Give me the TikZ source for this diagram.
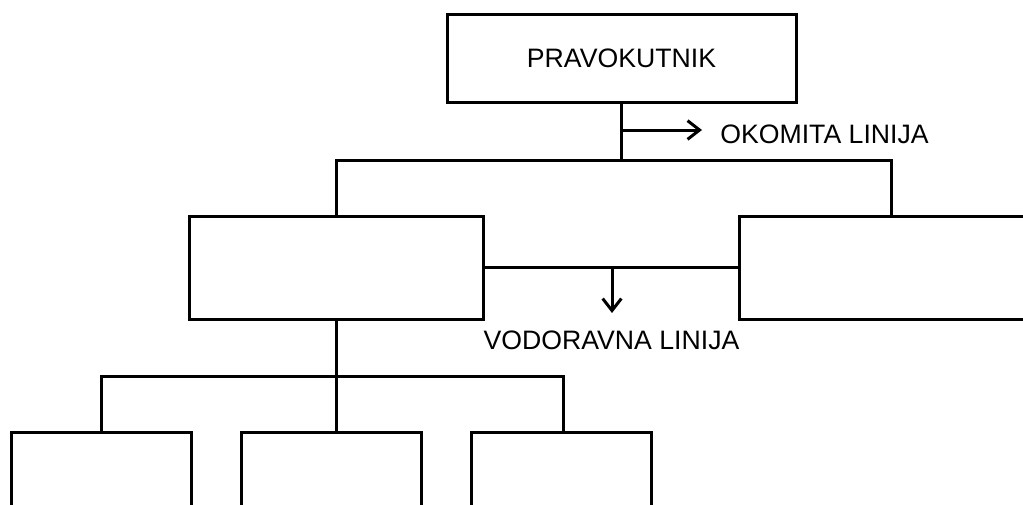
\documentclass[tikz,border=0pt]{standalone}
\usepackage{fontspec}
\setmainfont{Liberation Sans}
\usetikzlibrary{arrows.meta}

\begin{document}
\begin{tikzpicture}[x=0.75pt,y=-0.75pt,
    okvir/.style={draw,line width=2.25pt,inner sep=0pt,minimum height=77.25pt},
    veza/.style={line width=2.25pt},
    strelica/.style={line width=2.25pt,-{Straight Barb[length=9pt,width=14pt]}},
    natpis/.style={font=\fontsize{20}{24}\selectfont,inner sep=0pt}]
    \clip (0,0) rectangle (1023,504);

    % Gornji pravokutnik
    \node[okvir,natpis,minimum width=261.75pt,minimum height=66pt] (vrh) at (621.5,58) {PRAVOKUTNIK};

    % Srednji red
    \node[okvir,minimum width=220.5pt] (lijevi) at (336,267.5) {};
    \node[okvir,minimum width=228pt] (desni) at (891,267.5) {};

    % Donji red
    \node[okvir,minimum width=135pt,anchor=north] (d1) at (101,431) {};
    \node[okvir,minimum width=135pt,anchor=north] (d2) at (331,431) {};
    \node[okvir,minimum width=135pt,anchor=north] (d3) at (561,431) {};

    % Okomita linija
    \coordinate (g1) at (vrh.south |- 0,160);
    \draw[veza] (vrh.south) -- (g1);
    \draw[veza] (lijevi.north) |- (g1) -| (desni.north);
    \coordinate (s1) at (vrh.south |- 0,130);
    \coordinate (s2) at (702,130);
    \draw[strelica] (s1) -- (s2);
    \node[natpis,anchor=west] (okomita) at (720,134) {OKOMITA LINIJA};

    % Vodoravna linija
    \draw[veza] (lijevi.east) -- (desni.west);
    \coordinate (v1) at (612,267.5);
    \coordinate (v2) at (612,313);
    \draw[strelica] (v1) -- (v2);
    \node[natpis] (vodoravna) at (611.5,340) {VODORAVNA LINIJA};

    % Grananje prema dolje
    \coordinate (g2) at (lijevi.south |- 0,376);
    \draw[veza] (lijevi.south) -- (g2);
    \draw[veza] (d1.north) |- (g2);
    \draw[veza] (g2) -- (lijevi.south |- d2.north);
    \draw[veza] (g2) -| (563,431);
\end{tikzpicture}
\end{document}
